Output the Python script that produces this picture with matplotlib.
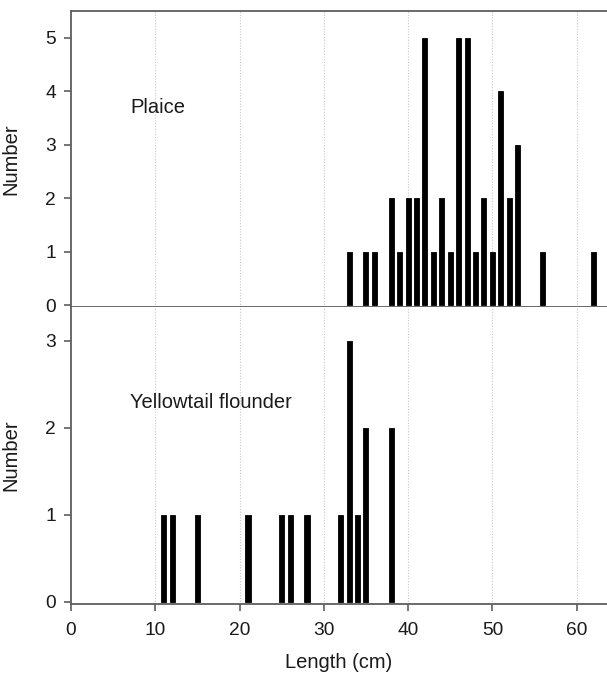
import matplotlib
matplotlib.use("Agg")
import matplotlib.pyplot as plt

plt.rcParams['font.family'] = ['Liberation Sans', 'DejaVu Sans']

# Length-frequency data
plaice_len = [33, 35, 36, 38, 39, 40, 41, 42, 43, 44, 45, 46, 47, 48, 49, 50, 51, 52, 53, 56, 62]
plaice_n = [1, 1, 1, 2, 1, 2, 2, 5, 1, 2, 1, 5, 5, 1, 2, 1, 4, 2, 3, 1, 1]

yt_len = [11, 12, 15, 21, 25, 26, 28, 32, 33, 34, 35, 38]
yt_n = [1, 1, 1, 1, 1, 1, 1, 1, 3, 1, 2, 2]

x_ticks = [0, 10, 20, 30, 40, 50, 60]

spine_col = '#5e5e5e'
text_col = '#1a1a1a'

fig = plt.figure(figsize=(6.07, 6.78), dpi=100)
W, H = 607, 678
left = 71 / W
ax1 = fig.add_axes([left, 1 - 307 / H, 1 - left, (307 - 11) / H])
ax2 = fig.add_axes([left, 1 - 604 / H, 1 - left, (604 - 307) / H])

panels = [
    (ax1, plaice_len, plaice_n, 'Plaice', 3.69, (-0.035, 5.5), range(6)),
    (ax2, yt_len, yt_n, 'Yellowtail flounder', 2.29, (-0.025, 3.39), range(4)),
]

for ax, xs, ns, name, ty, ylim, yt in panels:
    ax.bar(xs, ns, width=0.6, color='black', edgecolor='black', linewidth=0.6, zorder=3)
    ax.set_xlim(0, 63.6)
    ax.set_ylim(*ylim)
    ax.set_yticks(list(yt))
    ax.set_xticks(x_ticks)
    for gx in x_ticks[1:]:
        ax.axvline(gx, color='#c8c8c8', linestyle=(0, (1, 1.5)), linewidth=0.8, zorder=1)
    ax.text(7, ty, name, fontsize=14.5, color=text_col, va='center', ha='left')
    ax.set_ylabel('Number', fontsize=14.5, color=text_col)
    ax.yaxis.set_label_coords(-0.095, 0.5)
    ax.tick_params(axis='both', direction='out', length=5, width=1.2, color=spine_col,
                   labelsize=13.8, labelcolor=text_col, pad=6)
    ax.spines['right'].set_visible(False)
    for s in ['left', 'bottom', 'top']:
        ax.spines[s].set_color(spine_col)
        ax.spines[s].set_linewidth(1.3)

ax1.tick_params(axis='x', length=0, labelbottom=False)
ax2.tick_params(axis='x', pad=8)
ax2.spines['top'].set_visible(False)
ax2.set_xlabel('Length (cm)', fontsize=14.5, color=text_col)
ax2.xaxis.set_label_coords(0.5, -0.165)

fig.savefig('out.png', dpi=100)
